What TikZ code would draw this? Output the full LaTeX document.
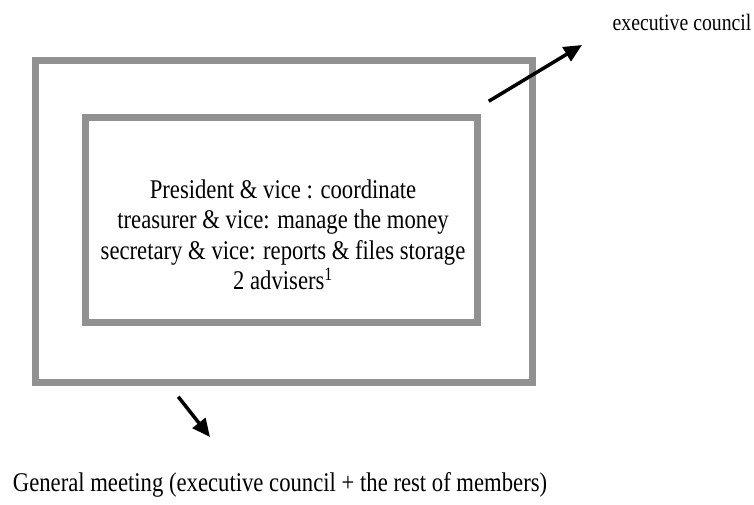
\documentclass[tikz,border=0pt]{standalone}
\usepackage{fontspec}
\setmainfont{Liberation Serif}
\newfontfamily\tallserif[FakeStretch=0.84]{Liberation Serif}
\usetikzlibrary{arrows.meta}
\begin{document}
\begin{tikzpicture}[x=1pt,y=-1pt,
  frame/.style={draw=black!43, line width=6.5pt, minimum width=#1},
  arr/.style={line width=3.5pt, -{Triangle[length=18pt,width=16pt]}},
  lbl/.style={font=\tallserif\fontsize{27}{30.5}\selectfont, inner sep=0pt, align=center}]
\useasboundingbox (0,0) rectangle (754,504);
\node[frame=497pt, minimum height=322pt] (outer) at (284,221.5) {};
\node[frame=392pt, minimum height=205pt] (inner) at (281.5,220) {};
\node[lbl] (roles) at (283,235) {President \& vice : coordinate\\treasurer \& vice: manage the money\\secretary \& vice: reports \& files storage\\2 advisers\textsuperscript{1}};
\node[lbl, font=\tallserif\fontsize{23.5}{26}\selectfont] (ec) at (682,22) {executive council};
\node[lbl] (gm) at (280,485) {General meeting (executive council + the rest of members)};
\coordinate (ectip) at (582,45);
\coordinate (gmtip) at (210,437);
\draw[arr] ([shift={(8,-13)}]inner.north east) -- (ectip);
\draw[arr] ([shift={(146,11)}]outer.south west) -- (gmtip);
\end{tikzpicture}
\end{document}
